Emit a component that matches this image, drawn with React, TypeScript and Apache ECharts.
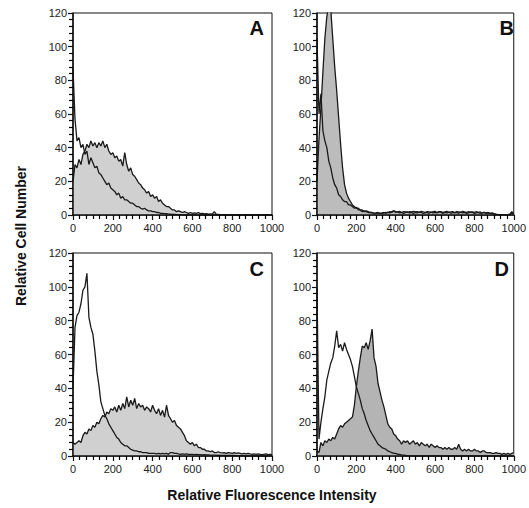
import React, { useEffect, useRef } from "react";
import * as echarts from "echarts";

// Histogram channels (bin start, 10-unit bins from 0 to 1000)
const BIN_STEP = 10;
const BIN_COUNT = 101;

const PANEL_LABELS = ["A", "B", "C", "D"];
const X_TICKS = [0, 200, 400, 600, 800, 1000];
const Y_TICKS = [0, 20, 40, 60, 80, 100, 120];

const A_FILLED = [
  20, 30, 28, 33, 30, 36, 38, 42, 40, 44,
  41, 43, 40, 43, 41, 44, 40, 42, 38, 36,
  37, 34, 35, 32, 33, 29, 37, 30, 26, 28,
  24, 23, 21, 19, 18, 16, 15, 13, 14, 11,
  12, 10, 11, 8, 9, 7, 6, 5, 5, 4,
  3, 3, 2, 2.5, 2, 1.5, 2, 1.5, 1, 1.5,
  1, 1.2, 1, 1.5, 0.8, 1, 0.6, 0.8, 0.5, 0.6,
  0.5, 2, 0.4, 0.3, 0.2, 0.2, 0.1, 0.1, 0, 0,
  0, 0, 0, 0, 0, 0, 0, 0, 0, 0,
  0, 0, 0, 0, 0, 0, 0, 0, 0, 0, 0,
];
const A_OUTLINE = [
  87, 57, 44, 46, 40, 42, 36, 38, 30, 34,
  31, 28, 29, 25, 24, 22, 20, 18, 19, 16,
  15, 14, 12, 13, 10, 11, 9, 9, 8, 7,
  7, 6, 5, 5, 4, 3.5, 4, 3, 2.5, 2.5,
  2, 2, 1.5, 1.5, 1, 1, 0.8, 0.8, 0.5, 0.5,
  0.3, 0.3, 0.2, 0.2, 0.1, 0.1, 0, 0, 0, 0,
  0, 0, 0, 0, 0, 0, 0, 0, 0, 0,
  0, 0, 0, 0, 0, 0, 0, 0, 0, 0,
  0, 0, 0, 0, 0, 0, 0, 0, 0, 0,
  0, 0, 0, 0, 0, 0, 0, 0, 0, 0, 0,
];
const B_FILLED = [
  20, 45, 64, 85, 105, 118, 124, 122, 105, 88,
  74, 58, 42, 28, 18, 13, 10, 8, 6, 5,
  4, 4, 3, 3, 2, 2.5, 2, 1.5, 1.5, 1,
  1.2, 1.5, 1, 1.2, 1.5, 1, 1.8, 1.2, 2, 2.5,
  1.5, 1.8, 1.2, 1.5, 1, 1.5, 1.8, 1.2, 1.5, 1,
  1.5, 1.2, 1.8, 1.5, 1, 1.2, 1.5, 1, 1.8, 1.2,
  1.5, 1.2, 2, 1.5, 1, 1.5, 1.2, 1.8, 1, 1.5,
  1.2, 1.5, 1, 1.8, 1.2, 1.5, 1, 1.2, 1.8, 1.5,
  1, 1.2, 1.5, 1, 1.2, 1.5, 1, 1.2, 1, 0.8,
  0.5, 0.3, 0.2, 0.2, 0.1, 0.1, 0.1, 0.2, 0.5, 2, 0.5,
];
const B_OUTLINE = [
  105, 60, 72, 50, 44, 40, 32, 28, 22, 18,
  16, 12, 11, 9, 8, 8, 6, 6, 5, 4,
  4.5, 3, 3, 2, 2.5, 2, 1.5, 1.5, 1.2, 1,
  1, 1.2, 1, 0.8, 1.2, 1.5, 1.2, 2, 1.5, 2.5,
  2, 1.8, 2.2, 1.5, 2, 1.8, 1.5, 2, 1.8, 2.2,
  1.8, 2, 1.5, 2.2, 1.8, 1.5, 2, 1.8, 1.5, 2,
  2.2, 1.5, 1.8, 2, 1.5, 1.8, 2.2, 1.5, 1.8, 2,
  1.5, 2, 1.8, 1.5, 2.2, 1.8, 1.5, 2, 1.5, 1.8,
  1.5, 2, 1.5, 1.8, 1.2, 1.5, 1.2, 1.5, 1, 1.2,
  0.8, 0.5, 0.3, 0.2, 0.2, 0.1, 0.1, 0.1, 0.2, 1, 0.3,
];
const C_FILLED = [
  8, 7, 8, 9, 8, 12, 14, 13, 16, 15,
  18, 17, 20, 19, 22, 24, 23, 26, 25, 28,
  27, 29, 26, 30, 27, 31, 28, 35, 29, 33,
  30, 34, 28, 31, 29, 30, 27, 29, 28, 26,
  30, 27, 25, 28, 24, 27, 23, 30, 24, 22,
  20, 21, 18, 17, 16, 14, 12, 9, 8, 7,
  8, 6, 7, 5, 5, 4, 4, 3, 3, 2.5,
  3, 2, 2, 2.5, 2, 1.8, 2, 1.5, 2, 1.8,
  1.5, 2, 1.5, 1.8, 1.5, 1.2, 1.5, 1.2, 1.5, 1.2,
  1, 1.2, 1, 1.2, 1, 0.8, 1, 1.2, 0.8, 1, 1,
];
const C_OUTLINE = [
  40, 76, 83, 85, 90, 98, 100, 108, 82, 76,
  72, 62, 50, 42, 32, 28, 24, 22, 19, 17,
  15, 13, 11, 10, 8, 7, 6, 6, 5, 4,
  3.5, 3, 3, 2.5, 2.5, 2, 2, 2, 1.5, 1.5,
  1.5, 1.5, 1.2, 1.5, 1.2, 1.5, 1.2, 1.5, 1, 2,
  2, 1.5, 1.5, 1.2, 1, 1.2, 1, 1.2, 1, 1,
  1, 0.8, 1, 0.8, 0.8, 0.6, 0.8, 0.6, 0.6, 0.5,
  0.5, 0.5, 0.4, 0.5, 0.4, 0.4, 0.3, 0.4, 0.3, 0.3,
  0.3, 0.3, 0.2, 0.2, 0.2, 0.2, 0.1, 0.1, 0.1, 0.1,
  0.1, 0.1, 0.1, 0, 0, 0, 0, 0, 0, 0, 0,
];
const D_FILLED = [
  3, 2, 8, 6, 9, 8, 10, 9, 11, 10,
  13, 16, 18, 17, 19, 20, 21, 22, 23, 30,
  41, 50, 58, 65, 64, 67, 63, 68, 75, 58,
  53, 43, 38, 33, 29, 24, 19, 17, 16, 13,
  12, 10, 9, 7, 9, 8, 9, 7, 8, 9,
  7, 8, 6, 8, 7, 6, 7, 5, 7, 6,
  5, 6, 5, 5, 4, 5, 4, 5, 4, 4,
  5, 4, 7, 4, 3, 4, 3, 4, 3, 3,
  4, 3, 3, 2, 3, 3, 2, 2, 2, 1.5,
  1.5, 2, 1.5, 1.5, 1, 1.5, 1, 1.5, 1, 1.5, 2,
];
const D_OUTLINE = [
  99, 10, 20, 28, 35, 45, 50, 55, 58, 65,
  74, 64, 66, 62, 67, 63, 60, 57, 53, 47,
  41, 37, 33, 28, 25, 21, 18, 15, 13, 11,
  9, 7, 6, 5, 4.5, 4, 3, 2.5, 2, 1.5,
  1.5, 1, 1, 0.5, 0.5, 0.3, 0, 0, 0, 0,
  0, 0, 0, 0, 0, 0, 0, 0, 0, 0,
  0, 0, 0, 0, 0, 0, 0, 0, 0, 0,
  0, 0, 0, 0, 0, 0, 0, 0, 0, 0,
  0, 0, 0, 0, 0, 0, 0, 0, 0, 0,
  0, 0, 0, 0, 0, 0, 0, 0, 0, 0, 0,
];

const PANELS = [
  { filled: A_FILLED, outline: A_OUTLINE, fill: "#d0d0d0" },
  { filled: B_FILLED, outline: B_OUTLINE, fill: "#bcbcbc" },
  { filled: C_FILLED, outline: C_OUTLINE, fill: "#d0d0d0" },
  { filled: D_FILLED, outline: D_OUTLINE, fill: "#b4b4b4" },
];

const FONT = "'Liberation Sans', Arial, Helvetica, sans-serif";
const GRID_BOXES = [
  { left: 73, top: 13, width: 199, height: 202 },
  { left: 317, top: 13, width: 200, height: 202 },
  { left: 73, top: 253, width: 199, height: 203 },
  { left: 317, top: 253, width: 200, height: 203 },
];

function pairs(vals: number[]) {
  const out: [number, number][] = [];
  for (let i = 0; i < BIN_COUNT; i++) out.push([i * BIN_STEP, vals[i]]);
  return out;
}

export default function App() {
  const ref = useRef<HTMLDivElement>(null);
  useEffect(() => {
    if (!ref.current) return;
    const chart = echarts.init(ref.current, undefined, { renderer: "svg" });
    const xMax = X_TICKS[X_TICKS.length - 1];
    const yMax = Y_TICKS[Y_TICKS.length - 1];
    const grid = GRID_BOXES.map((g) => ({
      ...g,
      show: true,
      borderColor: "#111",
      borderWidth: 1,
      backgroundColor: "transparent",
    }));
    const lbl = { color: "#222", fontSize: 11, fontFamily: FONT };
    const xAxis: any[] = [];
    const yAxis: any[] = [];
    GRID_BOXES.forEach((_, i) => {
      xAxis.push({
        type: "value",
        gridIndex: i,
        min: 0,
        max: xMax,
        interval: 200,
        axisLine: { show: true, onZero: false, lineStyle: { color: "#111", width: 1.5 } },
        axisTick: { show: true, length: 5, lineStyle: { color: "#111", width: 1.2 } },
        minorTick: { show: true, splitNumber: 6, length: 4, lineStyle: { color: "#000", width: 1.2 } },
        minorSplitLine: { show: false },
        splitLine: { show: false },
        axisLabel: { ...lbl, margin: 7, formatter: (v: number) => String(v) },
        z: 5,
      });
      yAxis.push({
        type: "value",
        gridIndex: i,
        min: 0,
        max: yMax,
        interval: 20,
        axisLine: { show: true, onZero: false, lineStyle: { color: "#111", width: 1.5 } },
        axisTick: { show: true, length: 5, lineStyle: { color: "#111", width: 1.2 } },
        minorTick: { show: true, splitNumber: 5, length: 4, lineStyle: { color: "#000", width: 1.2 } },
        minorSplitLine: { show: false },
        splitLine: { show: false },
        axisLabel: { ...lbl, margin: 6, formatter: (v: number) => String(v) },
        z: 5,
      });
    });
    const series: any[] = [];
    PANELS.forEach((p, i) => {
      series.push({
        type: "line",
        xAxisIndex: i,
        yAxisIndex: i,
        data: pairs(p.filled),
        symbol: "none",
        clip: true,
        lineStyle: { color: "#1a1a1a", width: 1.3 },
        areaStyle: { color: p.fill, opacity: 1 },
        z: 2,
      });
      series.push({
        type: "line",
        xAxisIndex: i,
        yAxisIndex: i,
        data: pairs(p.outline),
        symbol: "none",
        clip: true,
        lineStyle: { color: "#1a1a1a", width: 1.3 },
        z: 3,
      });
    });
    const letterPos = [
      { x: 264, y: 18 },
      { x: 514, y: 18 },
      { x: 264, y: 259 },
      { x: 509, y: 259 },
    ];
    const graphic: any[] = PANEL_LABELS.map((t, i) => ({
      type: "text",
      x: letterPos[i].x,
      y: letterPos[i].y,
      style: {
        text: t,
        fontSize: 20,
        fontWeight: "bold",
        fontFamily: FONT,
        fill: "#111",
        align: "right",
        verticalAlign: "top",
      },
      z: 10,
    }));
    graphic.push({
      type: "text",
      x: 21,
      y: 236,
      rotation: Math.PI / 2,
      style: {
        text: "Relative Cell Number",
        fontSize: 14,
        fontWeight: "bold",
        fontFamily: FONT,
        fill: "#111",
        align: "center",
        verticalAlign: "middle",
      },
    });
    graphic.push({
      type: "text",
      x: 272,
      y: 495,
      style: {
        text: "Relative Fluorescence Intensity",
        fontSize: 14,
        fontWeight: "bold",
        fontFamily: FONT,
        fill: "#111",
        align: "center",
        verticalAlign: "middle",
      },
    });
    chart.setOption({
      animation: false,
      backgroundColor: "#ffffff",
      grid,
      xAxis,
      yAxis,
      series,
      graphic,
    });
    return () => chart.dispose();
  }, []);
  return (
    <div
      ref={ref}
      style={{ position: "absolute", left: 0, top: 0, width: 529, height: 508 }}
    />
  );
}
